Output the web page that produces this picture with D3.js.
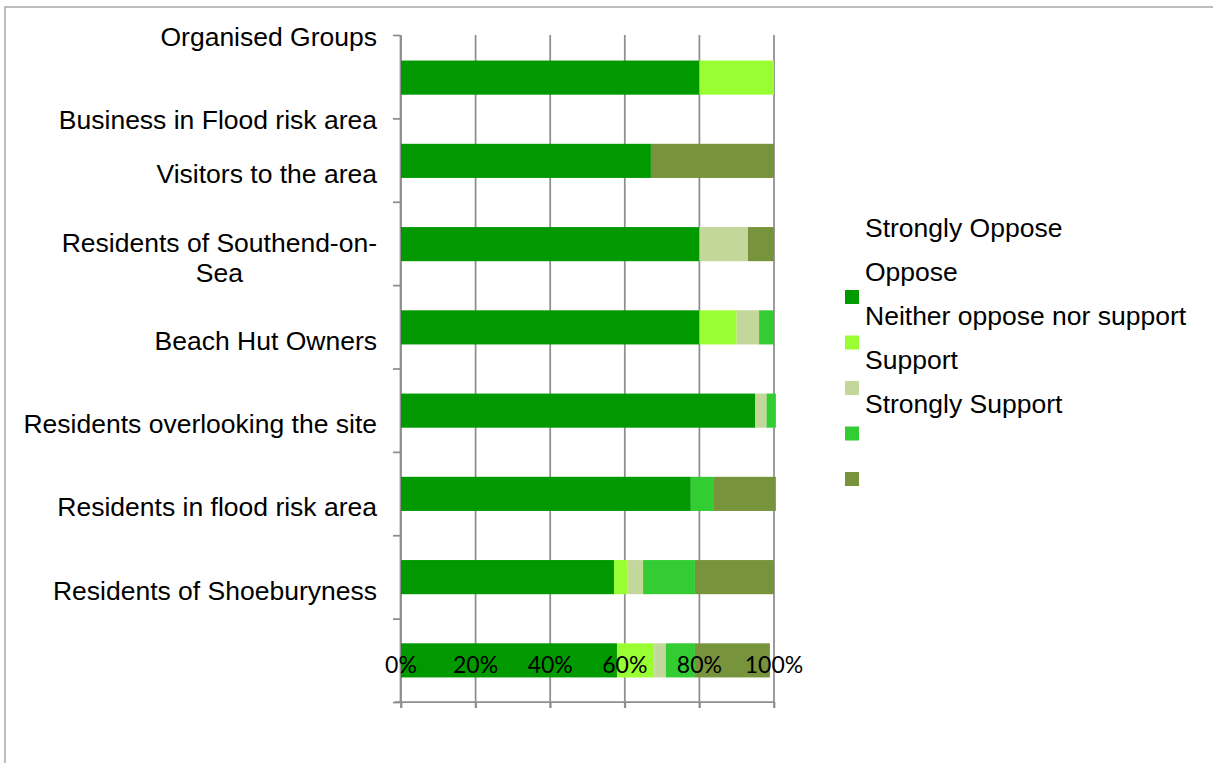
<!DOCTYPE html>
<html>
<head>
<meta charset="utf-8">
<script src="https://cdn.jsdelivr.net/npm/d3@7"></script>
<style>
  body { margin: 0; background: #fff; }
  text { font-family: "Liberation Sans", Arial, sans-serif; fill: #000; }
  .tick-label { font-family: Lato, "Open Sans", sans-serif; }
</style>
</head>
<body>
<script>
'use strict';

// category labels (top to bottom, as printed)
const labels = [
  "Organised Groups",
  "Business in Flood risk area",
  "Visitors to the area",
  "Residents of Southend-on-Sea",
  "Beach Hut Owners",
  "Residents overlooking the site",
  "Residents in flood risk area",
  "Residents of Shoeburyness"
];

// bar rows (top to bottom)
const rows = ["r1", "r2", "r3", "r4", "r5", "r6", "r7", "r8"];

// series names and colours (legend order)
const seriesNames = ["Strongly Oppose", "Oppose", "Neither oppose nor support", "Support", "Strongly Support"];
const seriesColors = ["#009900", "#99ff33", "#c4d79b", "#33cc33", "#77933c"];

// percentages per series, one value per row
const s1 = [80, 67, 80, 80, 95, 77.7, 57.1, 57.9];
const s2 = [20, 0, 0, 10, 0, 0, 3.7, 10];
const s3 = [0, 0, 13, 6, 3, 0, 4.1, 3.1];
const s4 = [0, 0, 0, 4, 2.5, 6.2, 13.9, 7.8];
const s5 = [0, 33, 7, 0, 0, 16.6, 21.2, 20.1];

const xTicks = [0, 20, 40, 60, 80, 100];

(function() {
  const svg = d3.select("body").append("svg")
    .attr("width", 1213)
    .attr("height", 763);

  // outer frame (top and left edges visible)
  svg.append("path")
    .attr("d", "M5,763 V7 H1213")
    .attr("fill", "none")
    .attr("stroke", "#a8a8a8")
    .attr("stroke-width", 1.5);

  const x = d3.scaleLinear().domain([0, 100]).range([401, 774]);
  const yEdge = d3.scaleLinear().domain([0, rows.length]).range([35, 702]);
  const y = d3.scaleBand().domain(rows).range([36, 702])
    .paddingInner(0.59).paddingOuter(0.295);

  // stack the series
  const table = rows.map((r, i) => {
    const o = { row: r };
    o[seriesNames[0]] = s1[i];
    o[seriesNames[1]] = s2[i];
    o[seriesNames[2]] = s3[i];
    o[seriesNames[3]] = s4[i];
    o[seriesNames[4]] = s5[i];
    return o;
  });
  const stacked = d3.stack().keys(seriesNames)(table);
  const color = d3.scaleOrdinal().domain(seriesNames).range(seriesColors);

  // vertical gridlines
  svg.append("g")
    .selectAll("line")
    .data(xTicks)
    .enter().append("line")
      .attr("x1", d => x(d)).attr("x2", d => x(d))
      .attr("y1", yEdge(0)).attr("y2", yEdge(rows.length) + 6)
      .attr("stroke", "#8e8e8e")
      .attr("stroke-width", 1.75);

  // category axis (ticks at band boundaries)
  const yAxis = svg.append("g")
    .attr("transform", "translate(400,0)")
    .call(d3.axisLeft(yEdge).tickValues(d3.range(rows.length + 1)).tickFormat("").tickSize(7).tickSizeOuter(0));
  yAxis.selectAll("line, path").attr("stroke", "#8e8e8e").attr("stroke-width", 1.75);

  // value axis line with ticks
  const xAxis = svg.append("g")
    .attr("transform", "translate(0," + yEdge(rows.length) + ")")
    .call(d3.axisBottom(x).tickValues(xTicks).tickFormat("").tickSize(6).tickSizeOuter(0));
  xAxis.select("path").attr("d", "M395,0H" + x(100));
  xAxis.selectAll("line, path").attr("stroke", "#8e8e8e").attr("stroke-width", 1.75);

  // bars
  svg.append("g")
    .selectAll("g")
    .data(stacked)
    .enter().append("g")
      .attr("fill", d => color(d.key))
    .selectAll("rect")
    .data(d => d)
    .enter().append("rect")
      .attr("x", d => x(d[0]))
      .attr("y", d => y(d.data.row))
      .attr("width", d => Math.max(0, x(d[1]) - x(d[0])))
      .attr("height", y.bandwidth());

  // category labels
  const labelG = svg.append("g");
  labels.forEach((lab, i) => {
    let base;
    if (i < 2) base = yEdge(i) + 10.5;
    else base = y(rows[i - 1]) + y.bandwidth() / 2 + 22.5;
    const t = labelG.append("text")
      .attr("x", 377)
      .attr("text-anchor", "end")
      .style("font-size", "26.5px");
    const lines = wrap(t, lab, 358);
    lines.forEach((ln, k) => {
      t.append("tspan")
        .attr("x", 377)
        .attr("y", base - (lines.length - 1) * 15 + k * 30)
        .attr("text-anchor", k === 0 ? "end" : "middle")
        .text(ln);
    });
    // centre wrapped lines under the first line
    if (lines.length > 1) {
      const w0 = t.select("tspan").node().getComputedTextLength();
      t.selectAll("tspan").filter((d, k) => k > 0).attr("x", 377 - w0 / 2);
    }
  });

  // value tick labels (drawn above the bars, as in the source)
  svg.append("g")
    .selectAll("text")
    .data(xTicks)
    .enter().append("text")
      .attr("class", "tick-label")
      .attr("x", d => x(d))
      .attr("y", yEdge(rows.length) - 29)
      .attr("text-anchor", "middle")
      .style("font-size", "23px")
      .text(d => d + "%");

  // legend
  const legText = d3.scaleLinear().domain([0, 1]).range([237, 281]);
  const legSwatch = d3.scaleLinear().domain([0, 1]).range([290, 335.5]);
  const leg = svg.append("g");
  leg.selectAll("text")
    .data(seriesNames)
    .enter().append("text")
      .attr("x", 865)
      .attr("y", (d, i) => legText(i))
      .style("font-size", "26.5px")
      .text(d => d);
  leg.selectAll("rect")
    .data(seriesNames)
    .enter().append("rect")
      .attr("x", 845)
      .attr("y", (d, i) => legSwatch(i))
      .attr("width", 14)
      .attr("height", 14)
      .attr("fill", d => color(d));

  // split text into lines that fit maxW, breaking at spaces or after hyphens
  function wrap(textSel, str, maxW) {
    const tokens = str.match(/[^\s-]+-?/g);
    const parts = [];
    let idx = 0;
    tokens.forEach(tok => {
      const pos = str.indexOf(tok, idx);
      parts.push({ tok: tok, sep: pos > idx ? " " : "" });
      idx = pos + tok.length;
    });
    const lines = [];
    let cur = "";
    parts.forEach(p => {
      const trial = cur === "" ? p.tok : cur + p.sep + p.tok;
      textSel.text(trial);
      if (textSel.node().getComputedTextLength() > maxW && cur !== "") {
        lines.push(cur);
        cur = p.tok;
      } else {
        cur = trial;
      }
    });
    lines.push(cur);
    textSel.text("");
    return lines;
  }
})();
</script>
</body>
</html>
